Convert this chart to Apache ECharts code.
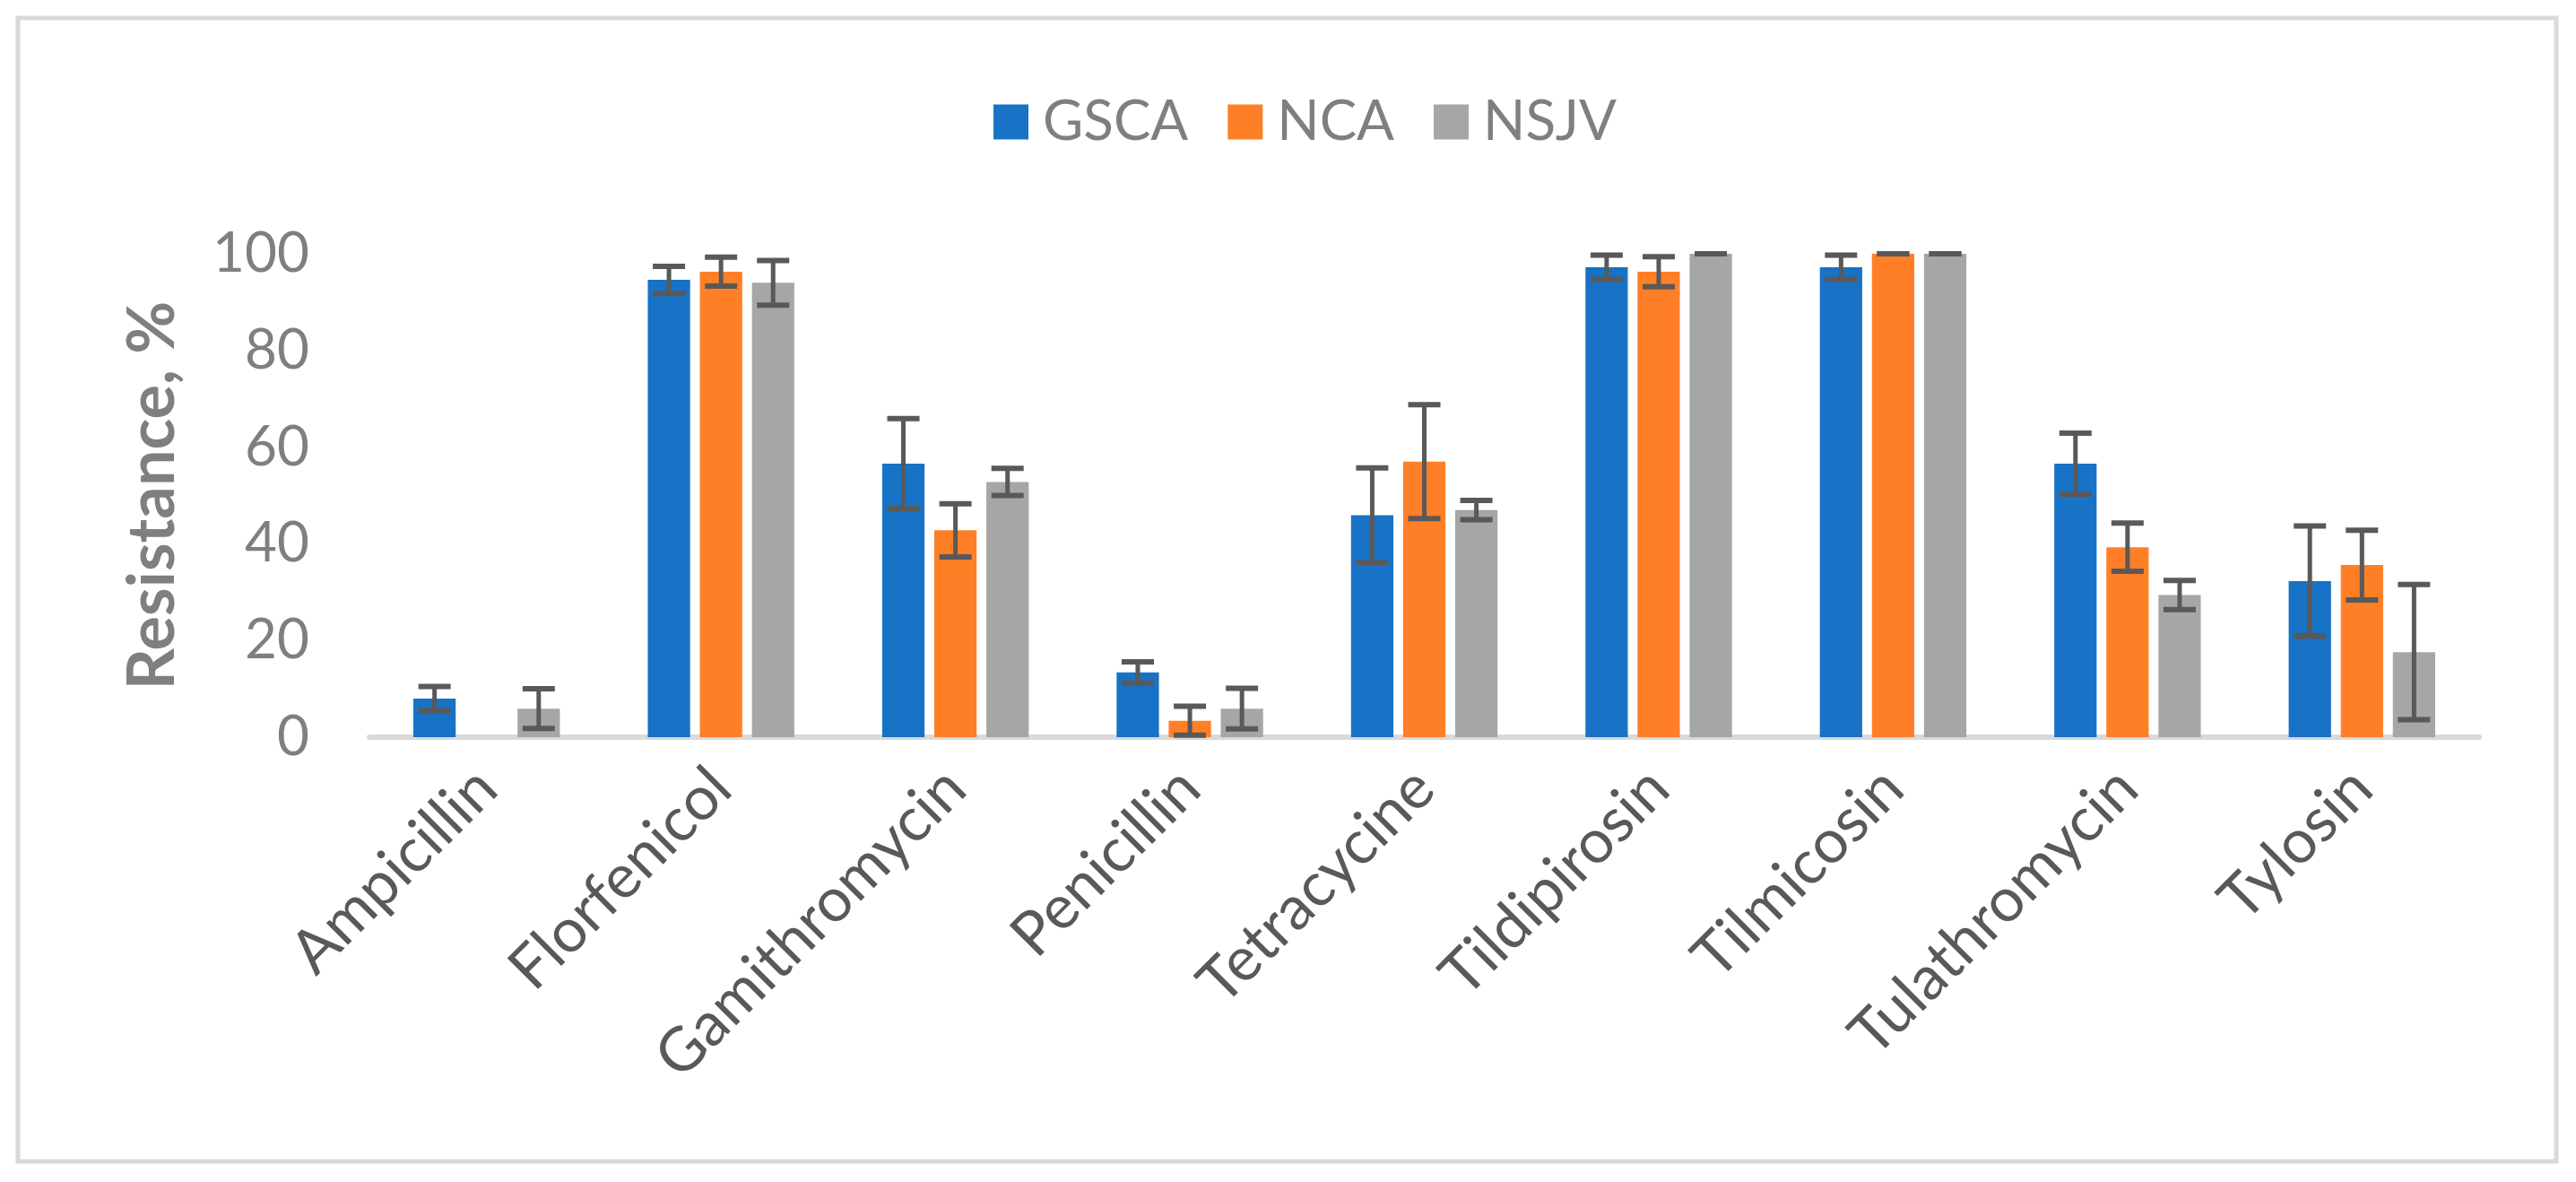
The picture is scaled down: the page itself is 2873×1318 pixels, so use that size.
<!DOCTYPE html>
<html>
<head>
<meta charset="utf-8">
<script src="https://cdn.jsdelivr.net/npm/echarts@6/dist/echarts.min.js"></script>
<style>
html,body{margin:0;padding:0;background:#fff;}
#chart{width:2873px;height:1318px;}
</style>
</head>
<body>
<div id="chart"></div>
<script>
const categories = ['Ampicillin','Florfenicol','Gamithromycin','Penicillin','Tetracycine','Tildipirosin','Tilmicosin','Tulathromycin','Tylosin'];
const seriesNames = ['GSCA','NCA','NSJV'];
const gsca    = [8.0, 94.6, 56.6, 13.4, 45.9, 97.2, 97.2, 56.6, 32.3];
const gscaErr = [2.5, 2.8, 9.3, 2.2, 9.8, 2.5, 2.5, 6.3, 11.4];
const nca     = [0, 96.3, 42.8, 3.4, 57.0, 96.3, 100, 39.3, 35.6];
const ncaErr  = [null, 3.0, 5.5, 3.0, 11.8, 3.1, 0, 5.0, 7.2];
const nsjv    = [5.9, 94.0, 52.8, 5.9, 47.0, 100, 100, 29.4, 17.6];
const nsjvErr = [4.1, 4.6, 2.8, 4.2, 2.0, 0, 0, 3.0, 14.0];
const yTicks  = [0, 20, 40, 60, 80, 100];

const colors = ['#1872C6', '#FF7F27', '#A6A6A6'];
const FONT = 'Lato';
const CAT_GAP = 0.375;
const BAR_GAP = 0.23;

const values = [gsca, nca, nsjv];
const errs = [gscaErr, ncaErr, nsjvErr];
const errData = [];
values.forEach((vals, s) => {
  vals.forEach((v, i) => {
    const e = errs[s][i];
    if (e === null || e === undefined) return;
    errData.push([i, v - e, v + e, s]);
  });
});

const chart = echarts.init(document.getElementById('chart'), null, {renderer: 'canvas'});
chart.setOption({
  backgroundColor: '#ffffff',
  animation: false,
  textStyle: {fontFamily: FONT},
  graphic: [{
    type: 'rect', z: -10,
    shape: {x: 20, y: 20, width: 2831, height: 1275},
    style: {fill: 'none', stroke: '#D9D9D9', lineWidth: 5}
  }],
  legend: {
    data: seriesNames,
    left: 1103, top: 100,
    icon: 'rect',
    itemWidth: 39, itemHeight: 39, itemGap: 44,
    textStyle: {fontFamily: FONT, fontSize: 62, color: '#7F7F7F', padding: [0,0,0,11]}
  },
  grid: {left: 412, right: 108, top: 283, bottom: 496, outerBoundsMode: 'none'},
  xAxis: {
    type: 'category',
    data: categories,
    axisLine: {lineStyle: {color: '#D9D9D9', width: 6}},
    axisTick: {show: false},
    axisLabel: {rotate: 45, interval: 0, margin: 46, fontFamily: FONT, fontSize: 68, color: '#595959'}
  },
  yAxis: {
    type: 'value',
    min: yTicks[0], max: yTicks[yTicks.length - 1], interval: yTicks[1] - yTicks[0],
    name: 'Resistance, %',
    nameLocation: 'middle',
    nameGap: 205,
    nameTextStyle: {fontFamily: FONT, fontSize: 72, fontWeight: 'bold', color: '#7F7F7F'},
    axisLine: {show: false},
    axisTick: {show: false},
    splitLine: {show: false},
    axisLabel: {margin: 67, fontFamily: FONT, fontSize: 62, color: '#7F7F7F'}
  },
  series: [
    ...seriesNames.map((n, s) => ({
      name: n, type: 'bar', data: values[s],
      itemStyle: {color: colors[s]},
      barGap: (BAR_GAP * 100) + '%', barCategoryGap: (CAT_GAP * 100) + '%'
    })),
    {
      name: 'errors', type: 'custom', z: 10,
      data: errData,
      encode: {x: 0, y: [1, 2]},
      renderItem: function (params, api) {
        const idx = api.value(0);
        const s = api.value(3);
        const band = api.size([1, 0])[0];
        const w = band * (1 - CAT_GAP) / (3 + 2 * BAR_GAP);
        const off = (s - 1) * w * (1 + BAR_GAP);
        const lo = api.coord([idx, api.value(1)]);
        const hi = api.coord([idx, api.value(2)]);
        const x = lo[0] + off;
        const half = 18;
        const st = {stroke: '#595959', lineWidth: 5};
        return {
          type: 'group',
          children: [
            {type: 'line', shape: {x1: x, y1: lo[1], x2: x, y2: hi[1]}, style: st},
            {type: 'line', shape: {x1: x - half, y1: lo[1], x2: x + half, y2: lo[1]}, style: {stroke: '#595959', lineWidth: 6}},
            {type: 'line', shape: {x1: x - half, y1: hi[1], x2: x + half, y2: hi[1]}, style: {stroke: '#595959', lineWidth: 6}}
          ]
        };
      }
    }
  ]
});
</script>
</body>
</html>
